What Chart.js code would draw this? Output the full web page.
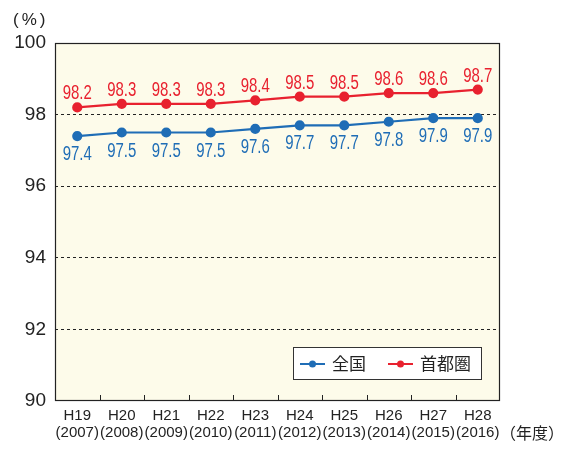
<!DOCTYPE html>
<html>
<head>
<meta charset="utf-8">
<script src="https://cdn.jsdelivr.net/npm/chart.js@4/dist/chart.umd.min.js"></script>
<style>
  body { margin: 0; background: #fff; }
  #wrap { width: 562px; height: 450px; }
</style>
</head>
<body>
<div id="wrap"><canvas id="chart" width="562" height="450"></canvas></div>
<script>
// data
const years = ['H19', 'H20', 'H21', 'H22', 'H23', 'H24', 'H25', 'H26', 'H27', 'H28'];
const westernYears = ['(2007)', '(2008)', '(2009)', '(2010)', '(2011)', '(2012)', '(2013)', '(2014)', '(2015)', '(2016)'];
const national = [97.4, 97.5, 97.5, 97.5, 97.6, 97.7, 97.7, 97.8, 97.9, 97.9];
const capital = [98.2, 98.3, 98.3, 98.3, 98.4, 98.5, 98.5, 98.6, 98.6, 98.7];
const seriesNames = ['全国', '首都圏'];
const yTicks = [90, 92, 94, 96, 98, 100];

const BLUE = '#1f6db6';
const RED = '#e8212f';
const SANS = "'Liberation Sans', Arial, sans-serif";
const CJK = "'Noto Sans CJK JP', sans-serif";

// cream background behind the plot
const plotBackground = {
  id: 'plotBackground',
  beforeDraw(chart) {
    const { ctx, chartArea: a } = chart;
    ctx.save();
    ctx.fillStyle = '#fdfbea';
    ctx.fillRect(a.left, a.top, a.right - a.left, a.bottom - a.top);
    ctx.restore();
  }
};

// frame, inward ticks, value labels, legend, extra texts
const decorations = {
  id: 'decorations',
  afterDraw(chart) {
    const { ctx, chartArea: a } = chart;
    ctx.save();

    // frame
    ctx.strokeStyle = '#222';
    ctx.lineWidth = 1.2;
    ctx.strokeRect(a.left + 0.5, a.top + 0.5, a.right - a.left - 1, a.bottom - a.top - 1);

    // short ticks between categories, pointing up
    const step = (a.right - a.left) / years.length;
    ctx.lineWidth = 1;
    for (let i = 1; i < years.length; i++) {
      const px = Math.round(a.left + step * i) + 0.5;
      ctx.beginPath();
      ctx.moveTo(px, a.bottom);
      ctx.lineTo(px, a.bottom - 6);
      ctx.stroke();
    }

    // value labels (tall, narrow look)
    ctx.font = '15px ' + SANS;
    ctx.textAlign = 'center';
    ctx.textBaseline = 'alphabetic';
    chart.data.datasets.forEach((ds, di) => {
      const meta = chart.getDatasetMeta(di);
      ctx.fillStyle = ds.borderColor;
      meta.data.forEach((pt, i) => {
        const label = ds.data[i].toFixed(1);
        ctx.save();
        ctx.translate(pt.x, di === 1 ? pt.y - 8 : pt.y + 24);
        ctx.scale(1, 1.3);
        ctx.fillText(label, 0, 0);
        ctx.restore();
      });
    });

    // legend box
    const lx = 293, ly = 347, lw = 188, lh = 32;
    ctx.fillStyle = '#ffffff';
    ctx.fillRect(lx, ly, lw, lh);
    ctx.strokeStyle = '#333';
    ctx.lineWidth = 1;
    ctx.strokeRect(lx + 0.5, ly + 0.5, lw, lh);
    const entryX = [300, 388];
    ctx.font = '17px ' + CJK;
    ctx.textAlign = 'left';
    ctx.textBaseline = 'middle';
    chart.data.datasets.forEach((ds, di) => {
      const ex = entryX[di];
      const cy = ly + lh / 2 + 1;
      ctx.strokeStyle = ds.borderColor;
      ctx.lineWidth = 2;
      ctx.beginPath();
      ctx.moveTo(ex, cy);
      ctx.lineTo(ex + 25, cy);
      ctx.stroke();
      ctx.fillStyle = ds.borderColor;
      ctx.beginPath();
      ctx.arc(ex + 12.5, cy, 3.5, 0, Math.PI * 2);
      ctx.fill();
      ctx.fillStyle = '#222';
      ctx.fillText(ds.label, ex + 32, cy);
    });

    // unit label and axis title
    ctx.fillStyle = '#222';
    ctx.font = '17px ' + SANS;
    ctx.letterSpacing = '3px';
    ctx.textBaseline = 'middle';
    ctx.textAlign = 'left';
    ctx.fillText('(%)', 13, 20);
    ctx.letterSpacing = '0px';
    ctx.font = '16px ' + CJK;
    ctx.fillText('（年度）', 500, 433);
    ctx.restore();
  }
};

new Chart(document.getElementById('chart'), {
  type: 'line',
  data: {
    labels: years.map((y, i) => [y, westernYears[i]]),
    datasets: [
      {
        label: seriesNames[0],
        data: national,
        borderColor: BLUE,
        backgroundColor: BLUE,
        borderWidth: 2.2,
        pointRadius: 4,
        pointHoverRadius: 4,
        tension: 0
      },
      {
        label: seriesNames[1],
        data: capital,
        borderColor: RED,
        backgroundColor: RED,
        borderWidth: 2.2,
        pointRadius: 4,
        pointHoverRadius: 4,
        tension: 0
      }
    ]
  },
  options: {
    responsive: false,
    animation: false,
    layout: { padding: { top: 43, right: 62, bottom: 0, left: 0 } },
    plugins: {
      legend: { display: false },
      tooltip: { enabled: false }
    },
    scales: {
      x: {
        offset: true,
        grid: { display: false, drawTicks: false },
        border: { display: false },
        ticks: {
          color: '#222',
          padding: 7,
          maxRotation: 0,
          autoSkip: false,
          font: { family: SANS, size: 15, lineHeight: 1.1 }
        },
        afterFit: s => { s.height = 49; }
      },
      y: {
        min: 90,
        max: 100,
        afterBuildTicks: s => { s.ticks = yTicks.map(v => ({ value: v })); },
        grid: {
          drawTicks: false,
          color: c => (c.tick.value === 90 || c.tick.value === 100) ? 'rgba(0,0,0,0)' : '#222',
          lineWidth: 1
        },
        border: { display: false, dash: [3, 3] },
        ticks: {
          color: '#222',
          padding: 9,
          font: { family: SANS, size: 19 }
        },
        afterFit: s => { s.width = 55; }
      }
    }
  },
  plugins: [plotBackground, decorations]
});
</script>
</body>
</html>
